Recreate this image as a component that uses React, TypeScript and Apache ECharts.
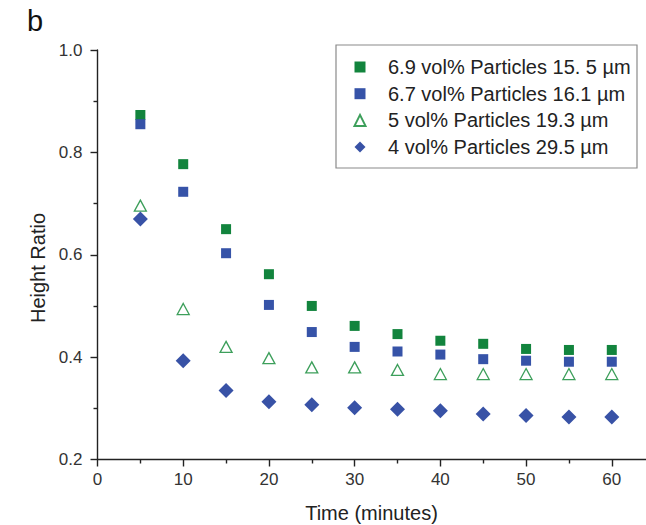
import React, { useEffect, useRef } from "react";
import * as echarts from "echarts";

const times = [5, 10, 15, 20, 25, 30, 35, 40, 45, 50, 55, 60];
const s69 = [0.873, 0.777, 0.65, 0.562, 0.5, 0.461, 0.445, 0.432, 0.426, 0.416, 0.414, 0.414];
const s67 = [0.855, 0.723, 0.603, 0.502, 0.449, 0.42, 0.411, 0.405, 0.396, 0.393, 0.391, 0.391];
const s5 = [0.696, 0.494, 0.42, 0.398, 0.38, 0.38, 0.375, 0.367, 0.367, 0.367, 0.367, 0.367];
const s4 = [0.67, 0.393, 0.335, 0.313, 0.307, 0.301, 0.298, 0.295, 0.289, 0.286, 0.283, 0.283];
const seriesNames = [
  "6.9 vol% Particles 15. 5 µm",
  "6.7 vol% Particles 16.1 µm",
  "5 vol% Particles 19.3 µm",
  "4 vol% Particles 29.5 µm",
];

const FONT = "'Liberation Sans', Arial, Helvetica, sans-serif";
const pair = (ys: number[]) => times.map((t, i) => [t, ys[i]]);

export default function App() {
  const ref = useRef<HTMLDivElement>(null);
  useEffect(() => {
    if (!ref.current) return;
    const chart = echarts.init(ref.current, undefined, { renderer: "svg" });
    const axisColor = "#222";
    chart.setOption({
      animation: false,
      backgroundColor: "#ffffff",
      textStyle: { fontFamily: FONT },
      grid: {
        left: 97.5,
        top: 50,
        height: 409.5,
        width: 600,
        containLabel: false,
        outerBoundsMode: "none",
      },
      xAxis: {
        type: "value",
        min: 0,
        max: 70,
        interval: 10,
        axisLine: { lineStyle: { color: axisColor, width: 1.4 } },
        axisTick: { inside: false, length: 7, lineStyle: { color: axisColor, width: 1.4 } },
        minorTick: { show: true, splitNumber: 2, length: 4, lineStyle: { color: axisColor, width: 1.4 } },
        splitLine: { show: false },
        axisLabel: {
          fontSize: 17,
          color: "#333",
          margin: 11,
          fontFamily: FONT,
          showMaxLabel: false,
          formatter: (v: number) => (v > 60 ? "" : String(v)),
        },
      },
      yAxis: {
        type: "value",
        min: 0.2,
        max: 1.0,
        interval: 0.2,
        axisLine: { show: true, lineStyle: { color: axisColor, width: 1.4 } },
        axisTick: { show: true, inside: false, length: 7, lineStyle: { color: axisColor, width: 1.4 } },
        minorTick: { show: true, splitNumber: 2, length: 4, lineStyle: { color: axisColor, width: 1.4 } },
        splitLine: { show: false },
        axisLabel: {
          fontSize: 17,
          color: "#333",
          margin: 15,
          fontFamily: FONT,
          formatter: (v: number) => v.toFixed(1),
        },
      },
      legend: {
        orient: "vertical",
        left: 353.5,
        top: 57,
        padding: 0,
        itemWidth: 11,
        itemHeight: 11,
        itemGap: 6.7,
        data: seriesNames,
        textStyle: {
          fontSize: 20,
          color: "#222",
          fontFamily: FONT,
          lineHeight: 20,
          padding: [0, 0, 0, 17.5],
        },
      },
      graphic: [
        {
          type: "rect",
          shape: { x: 336, y: 45, width: 301, height: 123 },
          style: { fill: "none", stroke: "#8a8a8a", lineWidth: 1.2 },
          z: 10,
        },
        {
          type: "text",
          left: 27,
          top: 6,
          style: { text: "b", fontSize: 29, fill: "#111", fontFamily: FONT },
        },
        {
          type: "text",
          x: 371.5,
          y: 513,
          style: {
            text: "Time (minutes)",
            fontSize: 20,
            fill: "#222",
            fontFamily: FONT,
            align: "center",
            verticalAlign: "middle",
          },
        },
        {
          type: "text",
          x: 37.5,
          y: 268,
          rotation: Math.PI / 2,
          style: {
            text: "Height Ratio",
            fontSize: 20,
            fill: "#222",
            fontFamily: FONT,
            align: "center",
            verticalAlign: "middle",
          },
        },
      ],
      series: [
        {
          name: seriesNames[0],
          type: "scatter",
          symbol: "rect",
          symbolSize: 10,
          itemStyle: { color: "#12843d", opacity: 1 },
          data: pair(s69),
        },
        {
          name: seriesNames[1],
          type: "scatter",
          symbol: "rect",
          symbolSize: 10,
          itemStyle: { color: "#3653a8", opacity: 1 },
          data: pair(s67),
        },
        {
          name: seriesNames[2],
          type: "scatter",
          symbol: "triangle",
          symbolSize: [12, 11],
          itemStyle: { color: "#ffffff", borderColor: "#3d9f5b", borderWidth: 1.3, opacity: 1 },
          data: pair(s5),
        },
        {
          name: seriesNames[3],
          type: "scatter",
          symbol: "diamond",
          symbolSize: 15,
          itemStyle: { color: "#3852a6", opacity: 1 },
          data: pair(s4),
        },
      ],
    });
    return () => chart.dispose();
  }, []);
  return (
    <div
      ref={ref}
      style={{ position: "fixed", left: 0, top: 0, width: 646, height: 525 }}
    />
  );
}
